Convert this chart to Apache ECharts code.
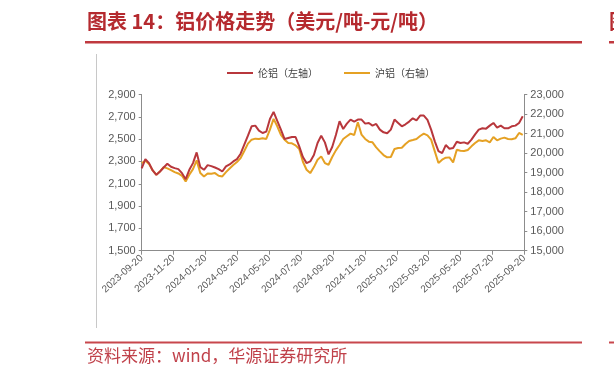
<!DOCTYPE html>
<html>
<head>
<meta charset="utf-8">
<script src="https://cdn.jsdelivr.net/npm/echarts@6/dist/echarts.min.js"></script>
<style>
html,body{margin:0;padding:0;background:#fff;}
#chart{width:614px;height:378px;}
</style>
</head>
<body>
<div id="chart"></div>
<script>
// ---- data (weekly samples) ----
const startDate = '2023-09-20';
const endDate = '2025-09-20';
const tickLabels = ['2023-09-20','2023-11-20','2024-01-20','2024-03-20','2024-05-20','2024-07-20','2024-09-20','2024-11-20','2025-01-20','2025-03-20','2025-05-20','2025-07-20','2025-09-20'];
const leftTicks = [1500,1700,1900,2100,2300,2500,2700,2900];
const rightTicks = [15000,16000,17000,18000,19000,20000,21000,22000,23000];
const seriesNames = ['伦铝（左轴）','沪铝（右轴）'];

const lme = [2237,2321,2285,2219,2180,2210,2246,2279,2252,2240,2231,2195,2141,2225,2285,2381,2249,2225,2267,2258,
  2246,2231,2210,2255,2273,2300,2321,2369,2450,2531,2615,2621,2576,2555,2567,2681,2744,2663,2585,2501,
  2510,2519,2519,2435,2339,2285,2300,2357,2465,2531,2471,2363,2429,2537,2660,2591,2639,2675,2657,2675,
  2675,2639,2645,2621,2636,2585,2561,2552,2585,2675,2645,2615,2633,2657,2687,2669,2711,2711,2672,2585,
  2480,2393,2375,2447,2414,2420,2477,2465,2471,2459,2495,2543,2585,2597,2594,2621,2645,2603,2621,2597,
  2597,2615,2621,2645,2705];
const shfe = [19488,19608,19437,19111,18889,19060,19283,19214,19129,19026,18957,18837,18546,18889,19180,19625,18974,18803,18957,18940,
  18974,18837,18803,19026,19214,19386,19540,19745,20105,20482,20687,20739,20722,20756,20722,21201,21750,21373,20927,20687,
  20516,20499,20396,20208,19557,19146,18974,19283,19660,19831,19488,19403,19797,20139,20413,20722,20859,20996,20927,21578,
  20944,20722,20585,20550,20293,20088,19899,19780,19797,20208,20259,20276,20465,20619,20670,20722,20876,20996,20910,20687,
  20088,19488,19660,19762,19780,19523,20174,20122,20105,20156,20345,20516,20653,20619,20653,20550,20824,20653,20739,20790,
  20722,20705,20756,21030,20927];

// weekly dates
const dayMs = 86400000;
const t0 = Date.parse(startDate + 'T00:00:00Z');
const t1 = Date.parse(endDate + 'T00:00:00Z');
const dates = lme.map((_, i) => new Date(t0 + i * 7 * dayMs).toISOString().slice(0, 10));
const span = (t1 - t0) / (tickLabels.length - 1);
const xOf = d => (Date.parse(d + 'T00:00:00Z') - t0) / span;

const lmeData = lme.map((v, i) => [xOf(dates[i]), v]);
const shfeData = shfe.map((v, i) => [xOf(dates[i]), v]);

const chart = echarts.init(document.getElementById('chart'), null, {renderer: 'canvas'});
const axisColor = '#8c8c8c';
const labelColor = '#595959';
const numFmt = v => v.toLocaleString('en-US');

chart.setOption({
  animation: false,
  backgroundColor: '#fff',
  textStyle: {fontFamily: 'Liberation Sans, Arial, sans-serif'},
  graphic: [
    {type: 'text', left: 87, top: 11, style: {text: '图表 14：铝价格走势（美元/吨-元/吨）', font: 'bold 20px "Noto Sans CJK SC"', fill: '#b52a2f'}},
    {type: 'rect', shape: {x: 85, y: 41, width: 497, height: 2.5}, style: {fill: '#c0393f'}},
    {type: 'text', left: 609, top: 11, style: {text: '图', font: 'bold 20px "Noto Sans CJK SC"', fill: '#b52a2f'}},
    {type: 'rect', shape: {x: 609, y: 41, width: 6, height: 2.5}, style: {fill: '#c0393f'}},
    {type: 'line', shape: {x1: 96.5, y1: 54, x2: 96.5, y2: 328}, style: {stroke: '#c8c8c8', lineWidth: 1}},
    {type: 'rect', shape: {x: 85, y: 341.5, width: 497, height: 2}, style: {fill: '#c8474c'}},
    {type: 'rect', shape: {x: 609, y: 341.5, width: 6, height: 2}, style: {fill: '#c8474c'}},
    {type: 'text', left: 87, top: 347, style: {text: '资料来源：wind，华源证券研究所', font: '17px "Noto Sans CJK SC"', fill: '#c0414a'}}
  ],
  legend: {
    left: 222, top: 63,
    itemWidth: 26, itemHeight: 2, itemGap: 26,
    icon: 'rect',
    textStyle: {fontSize: 10, color: '#404040', fontFamily: 'Noto Sans CJK SC'},
    data: seriesNames
  },
  grid: {left: 141.7, right: 89.7, top: 94.5, bottom: 127.3},
  xAxis: {
    type: 'value', min: 0, max: tickLabels.length - 1, interval: 1,
    splitLine: {show: false},
    axisLine: {show: true, lineStyle: {color: axisColor}},
    axisTick: {show: true, length: 4, lineStyle: {color: axisColor}},
    axisLabel: {
      rotate: 42, fontSize: 10, color: labelColor, margin: 6,
      formatter: v => tickLabels[Math.round(v)] || ''
    }
  },
  yAxis: [
    {
      type: 'value', min: leftTicks[0], max: leftTicks[leftTicks.length - 1], interval: leftTicks[1] - leftTicks[0],
      splitLine: {show: false},
      axisLine: {show: true, lineStyle: {color: axisColor}},
      axisTick: {show: true, length: 3, lineStyle: {color: axisColor}},
      axisLabel: {fontSize: 11, color: labelColor, margin: 6, formatter: numFmt}
    },
    {
      type: 'value', position: 'right', min: rightTicks[0], max: rightTicks[rightTicks.length - 1], interval: rightTicks[1] - rightTicks[0],
      splitLine: {show: false},
      axisLine: {show: true, lineStyle: {color: axisColor}},
      axisTick: {show: true, length: 3, lineStyle: {color: axisColor}},
      axisLabel: {fontSize: 11, color: labelColor, margin: 6, formatter: numFmt}
    }
  ],
  series: [
    {name: seriesNames[0], type: 'line', yAxisIndex: 0, data: lmeData, showSymbol: false, symbol: 'none',
     lineStyle: {width: 2, color: '#b8373c'}, itemStyle: {color: '#b8373c'}, z: 3},
    {name: seriesNames[1], type: 'line', yAxisIndex: 1, data: shfeData, showSymbol: false, symbol: 'none',
     lineStyle: {width: 2, color: '#e5a124'}, itemStyle: {color: '#e5a124'}, z: 2}
  ]
});
</script>
</body>
</html>
